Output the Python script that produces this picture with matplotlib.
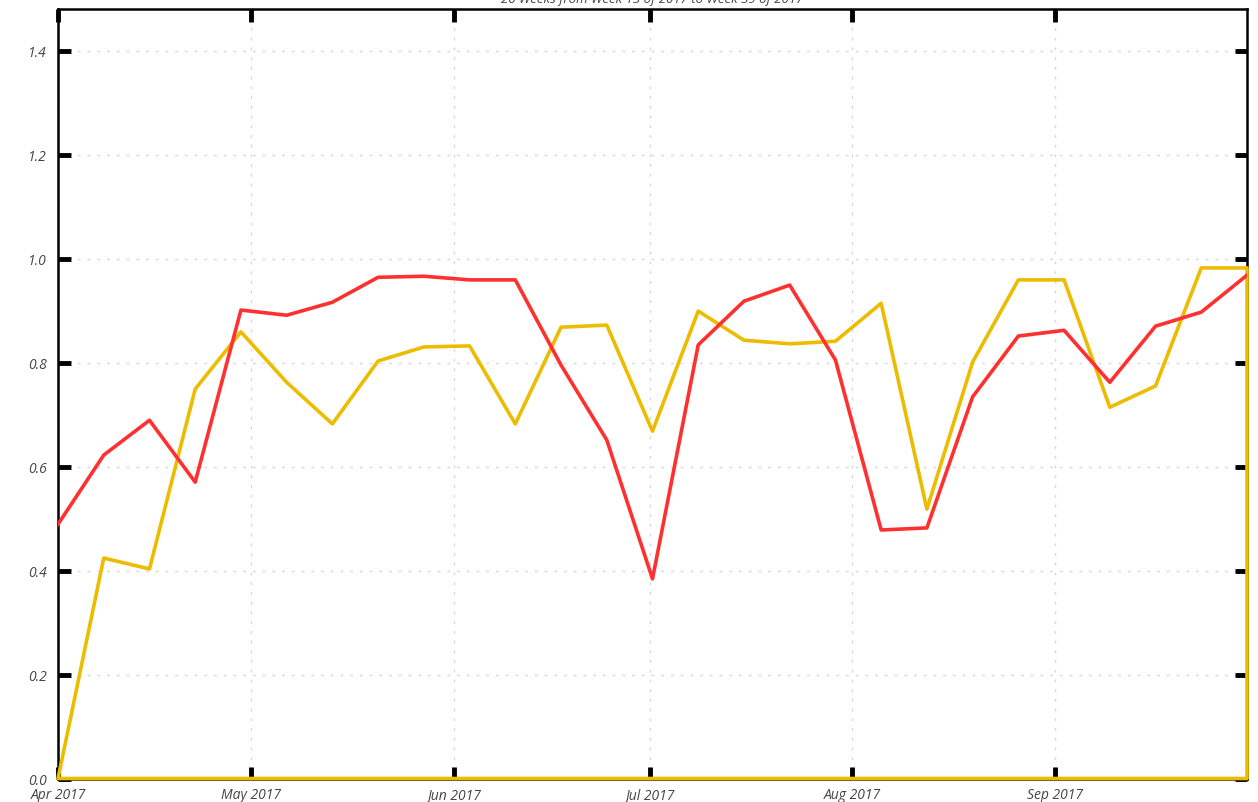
import matplotlib
matplotlib.use("Agg")
import matplotlib.pyplot as plt
import numpy as np
import pandas as pd

title = "26 Weeks from Week 13 of 2017 to Week 39 of 2017"
dates = pd.date_range("2017-04-01 10:00", periods=27, freq="7D")
red_values = [0.489, 0.622, 0.689, 0.570, 0.901, 0.891, 0.916, 0.964, 0.966, 0.959,
              0.959, 0.795, 0.651, 0.384, 0.834, 0.918, 0.949, 0.805, 0.478, 0.482,
              0.734, 0.851, 0.862, 0.762, 0.870, 0.897, 0.968]
yellow_values = [0.0, 0.424, 0.403, 0.749, 0.859, 0.762, 0.682, 0.803, 0.830, 0.832,
                 0.682, 0.868, 0.872, 0.668, 0.899, 0.843, 0.836, 0.841, 0.914, 0.518,
                 0.801, 0.959, 0.959, 0.714, 0.755, 0.982, 0.982]
month_starts = ["2017-05-01", "2017-06-01", "2017-07-01", "2017-08-01", "2017-09-01"]
tick_labels = ["Apr 2017", "May 2017", "Jun 2017", "Jul 2017", "Aug 2017", "Sep 2017"]
y_ticks = [0.0, 0.2, 0.4, 0.6, 0.8, 1.0, 1.2, 1.4]

tick_dates = [dates[0]] + [pd.Timestamp(d) for d in month_starts]

fig = plt.figure(figsize=(12.58, 8.03), dpi=100)
ax = fig.add_axes([58 / 1258, 23.5 / 803, (1247 - 58) / 1258, (779.5 - 10) / 803])

red_c = "#ff3030"
yel_c = "#ecbc00"

ax.fill_between(dates, yellow_values, 0, facecolor="none", edgecolor=yel_c,
                linewidth=2.6, zorder=4, clip_on=False)
ax.plot(dates, red_values, color=red_c, linewidth=2.6, zorder=5)

ax.set_xlim(dates[0], dates[-1])
ax.set_ylim(0, 1.48)
ax.set_yticks(y_ticks)
ax.set_yticklabels([f"{v:.1f}" for v in y_ticks])
ax.set_xticks(tick_dates)
ax.set_xticklabels(tick_labels)

ax.grid(True, color="#d8d8d8", linestyle=(0, (2, 5)), linewidth=1.0)
ax.set_axisbelow(True)

for s in ax.spines.values():
    s.set_linewidth(1.8)
    s.set_color("black")
    s.set_zorder(3)

ax.tick_params(axis="both", which="major", direction="in", length=9, width=3.5,
               color="black", top=True, right=True, labelsize=10,
               labelcolor="#444444")
ax.tick_params(axis="x", pad=6)
ax.tick_params(axis="y", pad=8)
for lab in ax.get_xticklabels() + ax.get_yticklabels():
    lab.set_fontstyle("italic")
    lab.set_family("Open Sans")

fig.text(652 / 1258, 1.0, title, ha="center", va="center", fontsize=9.5,
         fontstyle="italic", color="#444444", family="Open Sans")

fig.savefig("out.png", dpi=100)
